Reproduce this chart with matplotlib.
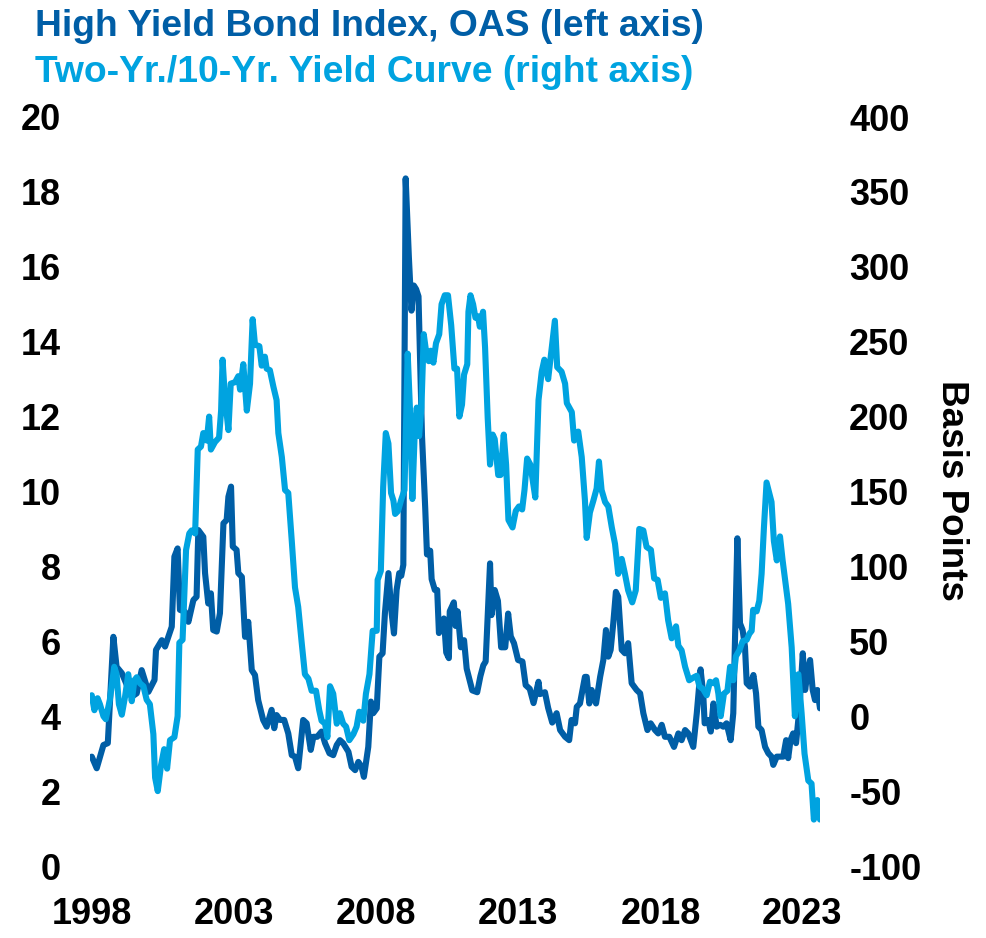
import matplotlib
matplotlib.use("Agg")
import matplotlib.pyplot as plt

plt.rcParams['font.family'] = ['Liberation Sans', 'DejaVu Sans']
plt.rcParams['font.weight'] = 'bold'

DARK = '#005EA6'
LIGHT = '#00A3E0'

# High Yield Bond Index OAS (%), left axis
hy_years = [1998.06, 1998.23, 1998.46, 1998.61, 1998.80, 1998.91, 1999.09, 1999.43, 1999.60, 1999.77,
            2000.00, 2000.21, 2000.26, 2000.46, 2000.57, 2000.80, 2000.89, 2001.00, 2001.08, 2001.25,
            2001.37, 2001.54, 2001.65, 2001.71, 2001.88, 2001.94, 2002.05, 2002.14, 2002.22, 2002.34,
            2002.45, 2002.57, 2002.68, 2002.74, 2002.83, 2002.89, 2003.02, 2003.08, 2003.20, 2003.31,
            2003.42, 2003.54, 2003.65, 2003.76, 2003.93, 2004.05, 2004.22, 2004.31, 2004.39, 2004.51,
            2004.65, 2004.79, 2004.91, 2005.02, 2005.13, 2005.30, 2005.42, 2005.56, 2005.65, 2005.78,
            2005.93, 2006.05, 2006.20, 2006.33, 2006.45, 2006.56, 2006.67, 2006.85, 2006.96, 2007.08,
            2007.19, 2007.30, 2007.38, 2007.53, 2007.62, 2007.70, 2007.82, 2007.91, 2008.02, 2008.10,
            2008.22, 2008.33, 2008.41, 2008.50, 2008.59, 2008.66, 2008.73, 2008.81, 2008.92, 2009.01,
            2009.09, 2009.17, 2009.25, 2009.31, 2009.37, 2009.48, 2009.54, 2009.65, 2009.70, 2009.81,
            2009.89, 2009.95, 2010.03, 2010.12, 2010.20, 2010.29, 2010.32, 2010.46, 2010.52, 2010.59,
            2010.70, 2010.81, 2010.90, 2011.09, 2011.26, 2011.37, 2011.47, 2011.55, 2011.70, 2011.75,
            2011.86, 2011.97, 2012.08, 2012.22, 2012.32, 2012.41, 2012.52, 2012.66, 2012.81, 2012.92,
            2013.06, 2013.19, 2013.36, 2013.41, 2013.58, 2013.69, 2013.83, 2013.98, 2014.10, 2014.27,
            2014.41, 2014.49, 2014.61, 2014.67, 2014.78, 2014.95, 2015.01, 2015.10, 2015.18, 2015.33,
            2015.47, 2015.58, 2015.67, 2015.75, 2015.83, 2015.92, 2016.01, 2016.09, 2016.21, 2016.32,
            2016.43, 2016.55, 2016.72, 2016.84, 2016.95, 2017.09, 2017.20, 2017.35, 2017.46, 2017.58,
            2017.69, 2017.84, 2018.00, 2018.15, 2018.26, 2018.38, 2018.49, 2018.66, 2018.78, 2018.91,
            2019.00, 2019.05, 2019.17, 2019.26, 2019.35, 2019.46, 2019.58, 2019.69, 2019.80, 2019.94,
            2020.03, 2020.17, 2020.26, 2020.35, 2020.43, 2020.49, 2020.60, 2020.72, 2020.81, 2020.89,
            2021.00, 2021.12, 2021.23, 2021.34, 2021.40, 2021.52, 2021.63, 2021.74, 2021.84, 2021.91,
            2021.99, 2022.08, 2022.18, 2022.29, 2022.41, 2022.49, 2022.57, 2022.66, 2022.75, 2022.83,
            2022.91, 2023.00]
hy_oas = [2.92, 2.61, 3.23, 3.28, 6.12, 5.32, 5.15, 4.52, 4.61, 5.23,
          4.65, 4.97, 5.77, 6.03, 5.86, 6.39, 8.26, 8.48, 6.84, 6.79,
          6.52, 7.10, 7.19, 8.97, 8.79, 7.82, 7.01, 7.28, 6.30, 6.26,
          6.75, 9.15, 9.24, 9.86, 10.13, 8.53, 8.44, 7.82, 7.72, 6.12,
          6.52, 5.23, 5.10, 4.43, 3.90, 3.72, 4.17, 3.68, 4.03, 3.90,
          3.90, 3.54, 2.96, 2.92, 2.61, 3.90, 3.81, 3.10, 3.45, 3.45,
          3.59, 3.28, 3.01, 2.96, 3.23, 3.36, 3.28, 3.05, 2.65, 2.56,
          2.78, 2.65, 2.38, 3.18, 4.39, 4.08, 4.21, 5.59, 5.68, 6.75,
          7.82, 6.75, 6.21, 7.37, 7.82, 7.75, 8.04, 18.36, 16.26, 14.83,
          15.50, 15.40, 15.21, 13.39, 11.48, 9.56, 8.32, 8.42, 7.66, 7.37,
          7.37, 6.22, 6.41, 6.61, 5.70, 5.55, 6.80, 7.04, 6.41, 6.80,
          5.84, 6.03, 5.27, 4.69, 4.64, 5.07, 5.36, 5.46, 8.08, 6.70,
          7.37, 7.08, 5.84, 5.84, 6.74, 6.13, 5.95, 5.50, 5.46, 4.83,
          4.73, 4.35, 4.92, 4.59, 4.64, 4.22, 3.83, 4.08, 3.63, 3.45,
          3.36, 3.90, 3.81, 4.25, 4.34, 5.05, 5.05, 4.34, 4.70, 4.34,
          5.05, 5.50, 6.30, 5.59, 5.77, 6.48, 7.32, 7.19, 5.77, 5.68,
          5.95, 4.88, 4.70, 4.61, 4.08, 3.63, 3.81, 3.63, 3.54, 3.77,
          3.45, 3.45, 3.18, 3.54, 3.36, 3.63, 3.54, 3.18, 4.08, 5.25,
          4.61, 3.81, 3.90, 3.59, 4.34, 3.72, 3.77, 3.72, 3.81, 3.36,
          4.08, 8.75, 6.48, 6.30, 5.86, 4.88, 4.79, 5.10, 4.61, 3.72,
          3.63, 3.18, 3.01, 2.92, 2.70, 2.92, 2.92, 2.92, 3.36, 2.88,
          3.36, 3.54, 3.28, 4.17, 5.68, 4.70, 5.14, 5.50, 4.70, 4.43,
          4.70, 4.21]

# Two-Yr./10-Yr. yield curve (basis points), right axis
yc_years = [1998.06, 1998.15, 1998.26, 1998.34, 1998.46, 1998.54, 1998.68, 1998.83, 1998.91, 1998.99,
            1999.09, 1999.20, 1999.31, 1999.43, 1999.52, 1999.60, 1999.71, 1999.83, 1999.94, 2000.05,
            2000.17, 2000.23, 2000.32, 2000.43, 2000.54, 2000.64, 2000.74, 2000.89, 2001.00, 2001.06,
            2001.17, 2001.29, 2001.40, 2001.48, 2001.60, 2001.69, 2001.80, 2001.88, 2002.00, 2002.08,
            2002.14, 2002.28, 2002.42, 2002.49, 2002.54, 2002.62, 2002.74, 2002.82, 2002.97, 2003.08,
            2003.14, 2003.25, 2003.37, 2003.48, 2003.57, 2003.65, 2003.80, 2003.88, 2003.99, 2004.05,
            2004.16, 2004.28, 2004.39, 2004.45, 2004.57, 2004.68, 2004.79, 2004.91, 2005.02, 2005.13,
            2005.25, 2005.36, 2005.48, 2005.59, 2005.74, 2005.85, 2005.93, 2006.05, 2006.13, 2006.22,
            2006.33, 2006.45, 2006.56, 2006.67, 2006.77, 2006.88, 2007.02, 2007.13, 2007.22, 2007.36,
            2007.45, 2007.57, 2007.68, 2007.82, 2007.85, 2007.96, 2008.04, 2008.13, 2008.22, 2008.31,
            2008.39, 2008.45, 2008.55, 2008.65, 2008.77, 2008.88, 2008.97, 2009.04, 2009.12, 2009.19,
            2009.27, 2009.35, 2009.43, 2009.52, 2009.60, 2009.67, 2009.76, 2009.85, 2009.96, 2010.04,
            2010.15, 2010.26, 2010.37, 2010.48, 2010.57, 2010.65, 2010.74, 2010.81, 2010.92, 2010.96,
            2011.03, 2011.12, 2011.20, 2011.29, 2011.35, 2011.46, 2011.53, 2011.62, 2011.70, 2011.79,
            2011.86, 2011.98, 2012.06, 2012.17, 2012.25, 2012.33, 2012.47, 2012.58, 2012.69, 2012.80,
            2012.88, 2012.97, 2013.08, 2013.25, 2013.36, 2013.47, 2013.56, 2013.69, 2013.92, 2014.00,
            2014.15, 2014.27, 2014.33, 2014.50, 2014.58, 2014.72, 2014.84, 2014.95, 2015.01, 2015.12,
            2015.24, 2015.35, 2015.43, 2015.52, 2015.64, 2015.75, 2015.87, 2015.98, 2016.09, 2016.21,
            2016.32, 2016.43, 2016.57, 2016.69, 2016.81, 2016.95, 2017.06, 2017.21, 2017.32, 2017.44,
            2017.55, 2017.69, 2017.80, 2017.92, 2018.07, 2018.15, 2018.26, 2018.38, 2018.52, 2018.68,
            2018.78, 2018.87, 2019.00, 2019.12, 2019.23, 2019.35, 2019.44, 2019.52, 2019.60, 2019.71,
            2019.83, 2019.92, 2020.03, 2020.12, 2020.24, 2020.35, 2020.49, 2020.58, 2020.66, 2020.71,
            2020.83, 2020.92, 2021.00, 2021.08, 2021.17, 2021.26, 2021.34, 2021.42, 2021.52, 2021.63,
            2021.72, 2021.84, 2021.91, 2022.03, 2022.14, 2022.26, 2022.37, 2022.47, 2022.60, 2022.71,
            2022.79, 2022.91, 2023.00]
yc_bp = [14, 4, 12, 8, 0, -2, 11, 33, 28, 8,
         1, 13, 28, 10, 24, 26, 22, 20, 11, 8,
         -12, -41, -50, -33, -22, -35, -16, -14, 0, 49,
         51, 111, 122, 124, 122, 178, 180, 189, 184, 200,
         178, 183, 186, 204, 238, 213, 191, 222, 223, 227,
         218, 235, 204, 222, 265, 248, 247, 234, 240, 232,
         231, 220, 211, 189, 173, 151, 149, 117, 86, 73,
         49, 28, 25, 17, 17, 4, -3, -5, -14, 20,
         15, -5, 2, -5, -7, -16, -12, -7, 3, -3,
         15, 28, 57, 57, 91, 97, 153, 189, 182, 149,
         144, 135, 137, 144, 151, 242, 199, 145, 189, 206,
         187, 206, 255, 242, 237, 244, 236, 249, 255, 275,
         281, 281, 261, 232, 232, 200, 208, 228, 235, 270,
         281, 275, 266, 267, 260, 270, 246, 199, 168, 188,
         185, 161, 161, 188, 168, 131, 126, 137, 140, 138,
         151, 172, 168, 146, 211, 230, 238, 225, 264, 233,
         230, 222, 209, 203, 184, 190, 173, 144, 119, 136,
         144, 152, 170, 151, 143, 140, 126, 115, 95, 105,
         95, 84, 76, 84, 125, 124, 113, 111, 92, 91,
         79, 82, 64, 52, 60, 47, 44, 33, 24, 26,
         27, 20, 18, 14, 23, 22, 24, 15, 0, 15,
         17, 33, 24, 40, 44, 50, 51, 55, 57, 71,
         70, 77, 95, 126, 156, 149, 143, 117, 104, 120,
         104, 86, 75, 46, 0, 28, 2, -25, -43, -45,
         -69, -56, -69]

x_tick_pos = [1998.07, 2002.93, 2007.79, 2012.66, 2017.55, 2022.38]
x_tick_labels = ['1998', '2003', '2008', '2013', '2018', '2023']
left_ticks = list(range(0, 21, 2))
right_ticks = list(range(-100, 401, 50))

W, H = 987, 938
fig = plt.figure(figsize=(W / 100, H / 100), dpi=100)
ax = fig.add_axes([90 / W, 72 / H, 730 / W, 749 / H])
ax2 = ax.twinx()

ax.plot(hy_years, hy_oas, color=DARK, lw=4.4, solid_joinstyle='round', solid_capstyle='round')
ax2.plot(yc_years, yc_bp, color=LIGHT, lw=4.4, solid_joinstyle='round', solid_capstyle='round')

ax.set_xlim(1998, 2023)
ax.set_ylim(0, 20)
ax2.set_ylim(-100, 400)
ax.set_yticks(left_ticks)
ax.set_yticklabels([str(v) for v in left_ticks])
ax2.set_yticks(right_ticks)
ax2.set_yticklabels([str(v) for v in right_ticks])
ax.set_xticks(x_tick_pos)
ax.set_xticklabels(x_tick_labels)

FS = 26
for a in (ax, ax2):
    for s in a.spines.values():
        s.set_visible(False)
    a.tick_params(length=0, labelsize=FS)
    for lab in a.get_yticklabels() + a.get_xticklabels():
        lab.set_fontweight('bold')
ax.tick_params(axis='y', pad=21)
ax2.tick_params(axis='y', pad=21)
ax.tick_params(axis='x', pad=22)

fig.text(35 / W, 1 - 36 / H, 'High Yield Bond Index, OAS (left axis)', color=DARK,
         fontsize=26.8, fontweight='bold', ha='left', va='baseline')
fig.text(35 / W, 1 - 82 / H, 'Two-Yr./10-Yr. Yield Curve (right axis)', color=LIGHT,
         fontsize=26.8, fontweight='bold', ha='left', va='baseline')
fig.text(952 / W, 1 - 490 / H, 'Basis Points', rotation=270, fontsize=26.5,
         fontweight='bold', ha='center', va='center')

fig.savefig('out.png', dpi=100)
